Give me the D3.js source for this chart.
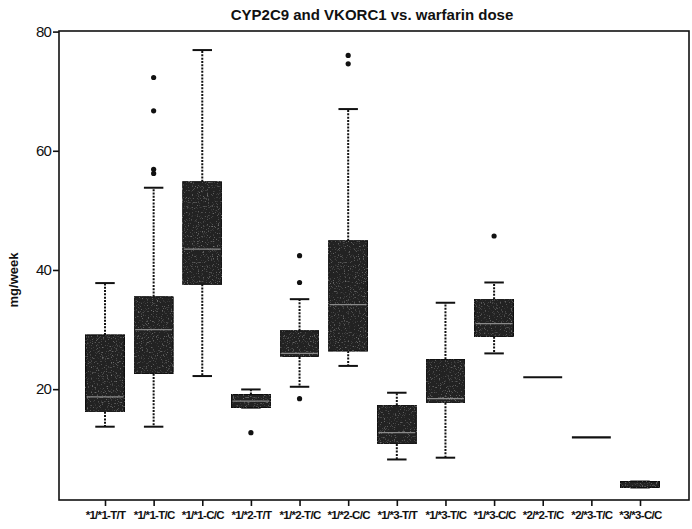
<!DOCTYPE html>
<html>
<head>
<meta charset="utf-8">
<script src="https://cdn.jsdelivr.net/npm/d3@7"></script>
<style>
  body { margin: 0; background: #fff; }
  svg { display: block; }
</style>
</head>
<body>
<svg id="chart" width="692" height="529"></svg>
<script>
// genotype groups
const categories = ["*1/*1-T/T", "*1/*1-T/C", "*1/*1-C/C", "*1/*2-T/T", "*1/*2-T/C", "*1/*2-C/C",
  "*1/*3-T/T", "*1/*3-T/C", "*1/*3-C/C", "*2/*2-T/C", "*2/*3-T/C", "*3/*3-C/C"];

// five-number summaries, mg/week
const lowerWhisker = [13.7, 13.7, 22.2, 16.9, 20.4, 23.9, 8.2, 8.5, 26.0, 22.0, 11.9, 3.5];
const q1 = [16.2, 22.6, 37.6, 16.9, 25.4, 26.4, 10.8, 17.7, 28.8, 22.0, 11.9, 3.5];
const median = [18.7, 30.0, 43.5, 18.0, 26.0, 34.2, 12.7, 18.4, 31.0, 22.0, 11.9, 4.0];
const q3 = [29.1, 35.5, 54.8, 19.1, 29.8, 44.9, 17.3, 25.0, 35.1, 22.0, 11.9, 4.5];
const upperWhisker = [37.8, 53.8, 76.9, 19.95, 35.1, 67.0, 19.4, 34.5, 37.9, 22.0, 11.9, 4.5];
const outliers = [[], [56.2, 56.9, 66.7, 72.3], [], [12.7], [18.4, 37.9, 42.4], [74.6, 76.0],
  [], [], [45.7], [], [], []];

const yTicks = [20, 40, 60, 80];

const svg = d3.select("#chart");

const frame = {left: 59, right: 689, top: 31, bottom: 500};

const x = d3.scalePoint()
  .domain(categories)
  .range([105, 640]);
const step = x.step();
const boxW = step * 0.8;
const capW = boxW / 2;

const y = d3.scaleLinear()
  .domain([1.4, 80.1])
  .range([frame.bottom, frame.top]);

// grainy fill, like the scanned original
const defs = svg.append("defs");
const filt = defs.append("filter").attr("id", "grain")
  .attr("x", 0).attr("y", 0).attr("width", 1).attr("height", 1);
filt.append("feTurbulence")
  .attr("type", "fractalNoise")
  .attr("baseFrequency", 0.8)
  .attr("numOctaves", 2)
  .attr("seed", 3)
  .attr("result", "noise");
filt.append("feColorMatrix")
  .attr("in", "noise")
  .attr("type", "matrix")
  .attr("values", "0 0 0 0 0.5  0 0 0 0 0.5  0 0 0 0 0.5  0 0 0 1.2 -0.72")
  .attr("result", "specks");
filt.append("feComposite")
  .attr("in", "specks").attr("in2", "SourceGraphic")
  .attr("operator", "atop");

const rows = categories.map((c, i) => ({
  cat: c, lw: lowerWhisker[i], q1: q1[i], med: median[i], q3: q3[i], uw: upperWhisker[i], out: outliers[i]
}));

const g = svg.append("g");

const box = g.selectAll(".box")
  .data(rows)
  .enter().append("g")
  .attr("class", "box")
  .attr("transform", d => "translate(" + x(d.cat) + ",0)");

// whiskers
box.filter(d => d.uw > d.q3).append("line")
  .attr("x1", 0).attr("x2", 0)
  .attr("y1", d => y(d.q3)).attr("y2", d => y(d.uw))
  .attr("stroke", "#111").attr("stroke-width", 2)
  .attr("stroke-dasharray", "2,1.3");
box.filter(d => d.lw < d.q1).append("line")
  .attr("x1", 0).attr("x2", 0)
  .attr("y1", d => y(d.q1)).attr("y2", d => y(d.lw))
  .attr("stroke", "#111").attr("stroke-width", 2)
  .attr("stroke-dasharray", "2,1.3");

// staples
box.filter(d => d.uw > d.q1).append("line")
  .attr("x1", -capW / 2).attr("x2", capW / 2)
  .attr("y1", d => y(d.uw)).attr("y2", d => y(d.uw))
  .attr("stroke", "#111").attr("stroke-width", 2);
box.filter(d => d.uw > d.q1).append("line")
  .attr("x1", -capW / 2).attr("x2", capW / 2)
  .attr("y1", d => y(d.lw)).attr("y2", d => y(d.lw))
  .attr("stroke", "#111").attr("stroke-width", 2);

// boxes
box.filter(d => d.q3 > d.q1).append("rect")
  .attr("x", -boxW / 2)
  .attr("width", boxW)
  .attr("y", d => y(d.q3))
  .attr("height", d => y(d.q1) - y(d.q3))
  .attr("fill", "#222")
  .attr("stroke", "#111")
  .attr("stroke-width", 1.2)
  .attr("filter", "url(#grain)");

// medians
box.filter(d => d.q3 - d.q1 > 1.5).append("line")
  .attr("x1", -boxW / 2 + 1).attr("x2", boxW / 2 - 1)
  .attr("y1", d => y(d.med)).attr("y2", d => y(d.med))
  .attr("stroke", "#8a8a8a").attr("stroke-width", 1.2);

// single-value groups drawn as a flat line
box.filter(d => d.q3 === d.q1).append("line")
  .attr("x1", -boxW / 2).attr("x2", boxW / 2)
  .attr("y1", d => y(d.med)).attr("y2", d => y(d.med))
  .attr("stroke", "#111").attr("stroke-width", 2.2);

// outliers
box.selectAll(".out")
  .data(d => d.out)
  .enter().append("circle")
  .attr("class", "out")
  .attr("cx", 0)
  .attr("cy", v => y(v))
  .attr("r", 2.6)
  .attr("fill", "#111");

// frame
svg.append("rect")
  .attr("x", frame.left).attr("y", frame.top)
  .attr("width", frame.right - frame.left)
  .attr("height", frame.bottom - frame.top)
  .attr("fill", "none")
  .attr("stroke", "#111")
  .attr("stroke-width", 1.6);

// axes
const yAxis = svg.append("g")
  .attr("transform", "translate(" + frame.left + ",0)")
  .call(d3.axisLeft(y).tickValues(yTicks).tickSize(6).tickPadding(2));
yAxis.select(".domain").remove();
yAxis.selectAll("line").attr("stroke", "#111").attr("stroke-width", 1.6);
yAxis.selectAll("text")
  .attr("fill", "#111")
  .style("font-family", "Liberation Sans, Arial, sans-serif")
  .style("font-size", "15px")
  .style("letter-spacing", "-0.8px");

const xAxis = svg.append("g")
  .attr("transform", "translate(0," + frame.bottom + ")")
  .call(d3.axisBottom(x).tickSize(6).tickPadding(5));
xAxis.select(".domain").remove();
xAxis.selectAll("line").attr("stroke", "#111").attr("stroke-width", 1.6);
xAxis.selectAll("text")
  .attr("fill", "#111")
  .style("font-family", "Liberation Sans, Arial, sans-serif")
  .style("font-weight", "bold")
  .style("font-size", "11.5px")
  .style("letter-spacing", "-0.7px");

// title and y label
svg.append("text")
  .attr("x", 372).attr("y", 20)
  .attr("text-anchor", "middle")
  .style("font-family", "Liberation Sans, Arial, sans-serif")
  .style("font-weight", "bold")
  .style("font-size", "15px")
  .attr("fill", "#111")
  .text("CYP2C9 and VKORC1 vs. warfarin dose");

svg.append("text")
  .attr("transform", "translate(18,280) rotate(-90)")
  .attr("text-anchor", "middle")
  .style("font-family", "Liberation Sans, Arial, sans-serif")
  .style("font-weight", "bold")
  .style("font-size", "13px")
  .attr("fill", "#111")
  .text("mg/week");
</script>
</body>
</html>
